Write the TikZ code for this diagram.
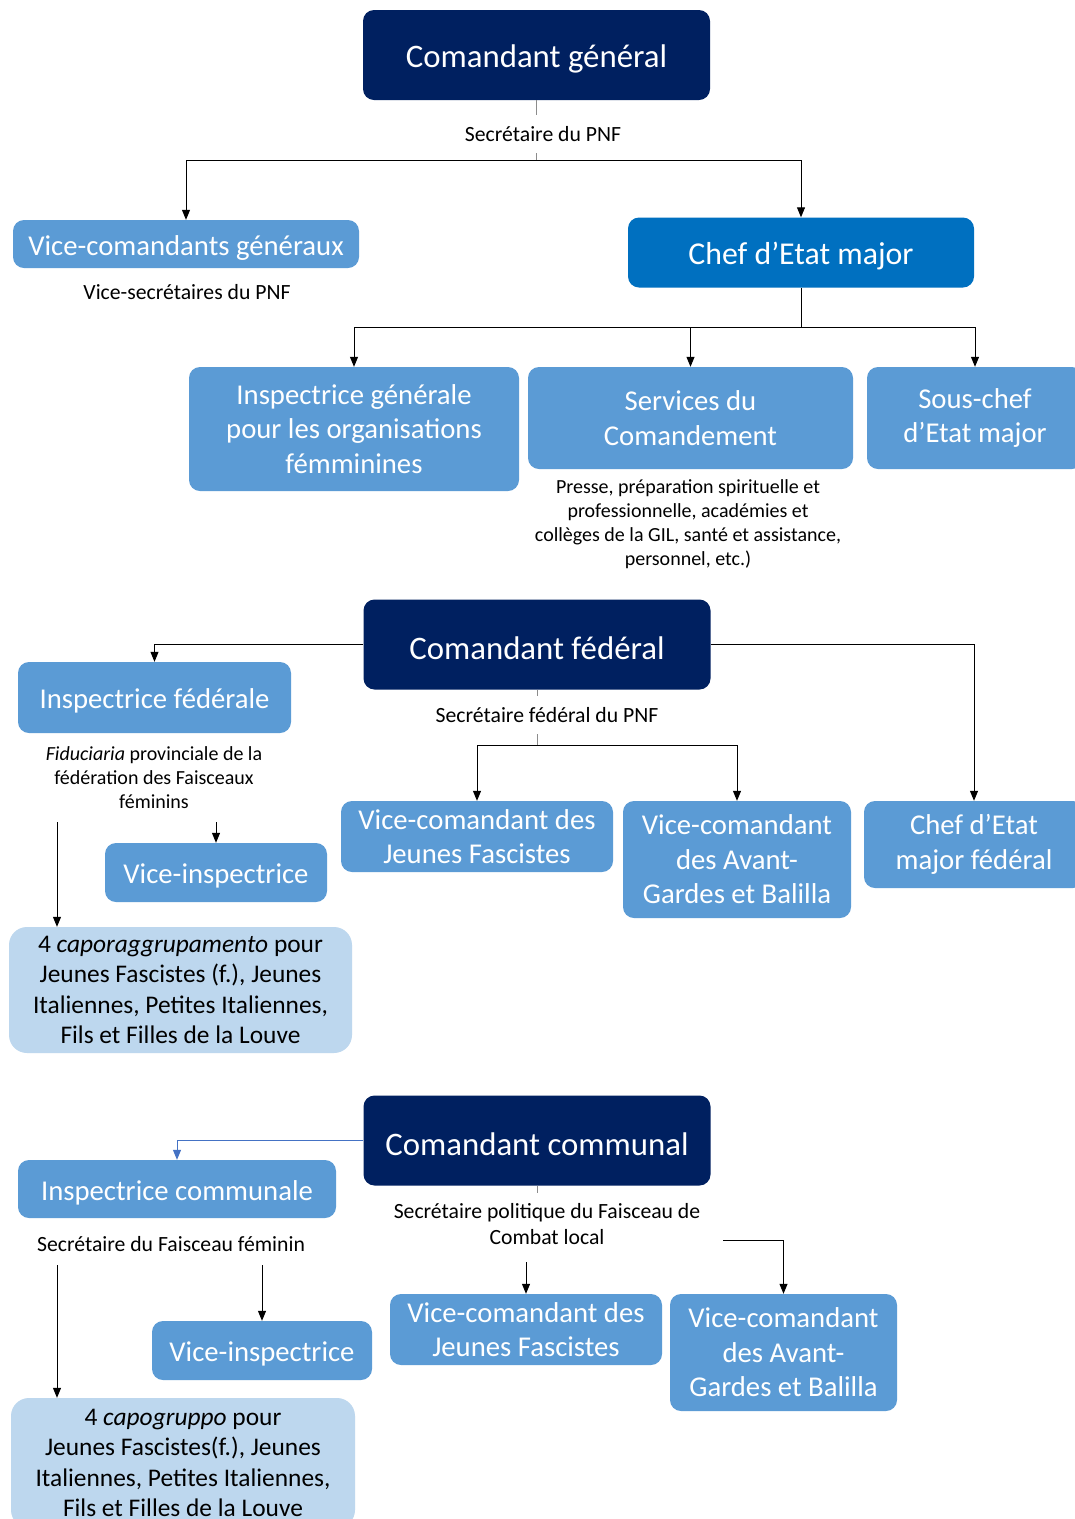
\documentclass[tikz,border=0pt]{standalone}
\usepackage{fontspec}
\setmainfont{Carlito}
\usetikzlibrary{arrows.meta}
\definecolor{navy}{HTML}{002060}
\definecolor{midblue}{HTML}{0070C0}
\definecolor{lblue}{HTML}{5B9BD5}
\definecolor{palecol}{HTML}{BDD7EE}
\definecolor{linkblue}{HTML}{4472C4}
\definecolor{tickgray}{HTML}{8C8C8C}
\newcommand{\toppad}{\rule{0pt}{0.95em}}
\tikzset{
  box/.style={rounded corners=11pt, inner sep=0pt, align=center, text=white, anchor=center},
  darkbox/.style={box, fill=navy, font=\fontsize{32.8}{39}\selectfont, execute at begin node=\toppad},
  midbox/.style={box, fill=midblue, font=\fontsize{31.8}{38}\selectfont, execute at begin node=\toppad},
  lightbox/.style={box, fill=lblue, font=\fontsize{28.7}{34.5}\selectfont, execute at begin node=\toppad},
  palebox/.style={box, fill=palecol, text=black, rounded corners=18pt, font=\fontsize{25.4}{30.3}\selectfont},
  lbl/.style={font=\fontsize{21.7}{26}\selectfont, align=center, text=black, inner sep=0pt},
  smalllbl/.style={lbl, font=\fontsize{20}{24}\selectfont},
  lblw/.style={lbl, fill=white, minimum height=38pt},
  arr/.style={-{Triangle[length=10pt,width=8pt]}, line width=1pt},
  ln/.style={line width=1pt},
  tick/.style={line width=1pt, draw=tickgray}
}
\begin{document}
\begin{tikzpicture}[x=1pt,y=-1pt]
\useasboundingbox (0,0) rectangle (1075,1519);
\clip (0,0) rectangle (1075,1519);
\fill[white] (0,0) rectangle (1075,1519);

% ---------- Section 1 ----------
\node[darkbox, minimum width=347pt, minimum height=90pt] (cg) at (536.5,55) {Comandant général};
\node[lightbox, minimum width=346pt, minimum height=48pt] (vcg) at (186,244) {Vice-comandants généraux};
\node[midbox, minimum width=346pt, minimum height=70pt] (chef) at (801,252.5) {Chef d’Etat major};
\node[lightbox, minimum width=330pt, minimum height=124pt] (insp) at (354,429) {Inspectrice générale\\pour les organisations\\fémminines};
\node[lightbox, minimum width=325pt, minimum height=102pt] (serv) at (690.5,418) {Services du\\Comandement};
\node[lightbox, minimum width=216pt, minimum height=102pt] (souschef) at (975,418) {Sous-chef\\d’Etat major};

\coordinate (h1) at (536.5,160);
\draw[tick] (cg.south) -- (h1);
\node[lblw] (secpnf) at (543,134) {Secrétaire du PNF};
\draw[arr] (h1) -| (vcg.north);
\draw[arr] (h1) -| (chef.north);
\node[lbl] (vsec) at (187,292) {Vice-secrétaires du PNF};

\coordinate (h2) at (801,327);
\draw[ln] (chef.south) -- (h2);
\draw[arr] (h2) -| (insp.north);
\draw[arr] (h2) -| (serv.north);
\draw[arr] (h2) -| (souschef.north);
\node[smalllbl] (servtxt) at (688,524) {Presse, préparation spirituelle et\\professionnelle, académies et\\collèges de la GIL, santé et assistance,\\personnel, etc.)};

% ---------- Section 2 ----------
\node[darkbox, minimum width=347pt, minimum height=90pt] (cf) at (537,644.5) {Comandant fédéral};
\node[lightbox, minimum width=273pt, minimum height=71pt] (ifed) at (154.5,697.5) {Inspectrice fédérale};
\node[lightbox, minimum width=220pt, minimum height=87pt] (cefed) at (974,844.5) {Chef d’Etat\\major fédéral};
\node[lightbox, minimum width=272pt, minimum height=71pt] (vcjf) at (477,836.5) {Vice-comandant des\\Jeunes Fascistes};
\node[lightbox, minimum width=228pt, minimum height=117pt] (vcag) at (737,859.5) {Vice-comandant\\des Avant-\\Gardes et Balilla};
\node[lightbox, minimum width=222pt, minimum height=59pt] (vi1) at (216,872.5) {Vice-inspectrice};
\node[palebox, minimum width=343pt, minimum height=126pt] (capo1) at (180.5,990) {4 \textit{caporaggrupamento} pour\\Jeunes Fascistes (f.), Jeunes\\Italiennes, Petites Italiennes,\\Fils et Filles de la Louve};

\draw[arr] (cf.west) -| (ifed.north);
\draw[arr] (cf.east) -| (cefed.north);
\coordinate (h3) at (537,745);
\draw[tick] (cf.south) -- (h3);
\node[lblw] (secfed) at (547,715) {Secrétaire fédéral du PNF};
\draw[arr] (h3) -| (vcjf.north);
\draw[arr] (h3) -| (vcag.north);

\node[smalllbl] (fid) at (154,778) {\textit{Fiduciaria} provinciale de la\\fédération des Faisceaux\\féminins};
\coordinate (f1) at (57,822);
\coordinate (f2) at (216,822);
\draw[arr] (f1) -- (capo1.north -| f1);
\draw[arr] (f2) -- (vi1.north);

% ---------- Section 3 ----------
\node[darkbox, minimum width=347pt, minimum height=90pt] (cc) at (537,1140.5) {Comandant communal};
\node[lightbox, minimum width=318pt, minimum height=58pt] (icom) at (177,1189) {Inspectrice communale};
\node[lightbox, minimum width=272pt, minimum height=71pt] (vcjf2) at (526,1329.5) {Vice-comandant des\\Jeunes Fascistes};
\node[lightbox, minimum width=227pt, minimum height=117pt] (vcag2) at (783.5,1352.5) {Vice-comandant\\des Avant-\\Gardes et Balilla};
\node[lightbox, minimum width=220pt, minimum height=59pt] (vi2) at (262,1350.5) {Vice-inspectrice};
\node[palebox, minimum width=344pt, minimum height=130pt] (capo2) at (183,1463) {4 \textit{capogruppo} pour\\Jeunes Fascistes(f.), Jeunes\\Italiennes, Petites Italiennes,\\Fils et Filles de la Louve};

\draw[arr, draw=linkblue] (cc.west) -| (icom.north);
\coordinate (t3) at (537,1193);
\draw[tick] (cc.south) -- (t3);
\node[lbl] (secpol) at (547,1224) {Secrétaire politique du Faisceau de\\Combat local};
\coordinate (c1) at (526,1262);
\coordinate (c2) at (723,1240);
\draw[arr] (c1) -- (vcjf2.north);
\draw[arr] (c2) -| (vcag2.north);

\node[lbl] (secfem) at (171,1244) {Secrétaire du Faisceau féminin};
\coordinate (c3) at (57,1265);
\coordinate (c4) at (262,1265);
\draw[arr] (c3) -- (capo2.north -| c3);
\draw[arr] (c4) -- (vi2.north);
\end{tikzpicture}
\end{document}
